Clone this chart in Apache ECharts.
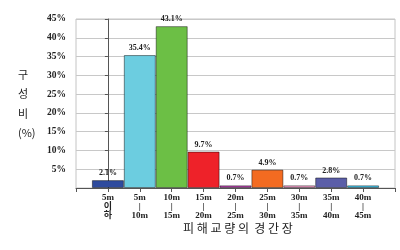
<!DOCTYPE html>
<html><head><meta charset="utf-8">
<script src="https://cdn.jsdelivr.net/npm/echarts@6/dist/echarts.min.js"></script>
<style>html,body{margin:0;padding:0;background:#fff}#c{width:400px;height:250px}</style>
</head><body><div id="c"></div>
<script>
const categories = ['5m\n이\n하','5m\n|\n10m','10m\n|\n15m','15m\n|\n20m','20m\n|\n25m','25m\n|\n30m','30m\n|\n35m','35m\n|\n40m','40m\n|\n45m'];
const values = [2.1, 35.4, 43.1, 9.7, 0.7, 4.9, 0.7, 2.8, 0.7];
const colors = ['#2f4b9e','#6ccde0','#6cbf45','#ee2229','#b43fa8','#f36b21','#f29ac6','#5b5ea8','#3dc3ea'];
const yTicks = [0,5,10,15,20,25,30,35,40,45];
const xTitle = '피 해 교 량 의  경 간 장';
const yTitle = '구\n성\n비\n(%)';

const chart = echarts.init(document.getElementById('c'), null, {renderer:'canvas'});
const serif = 'Liberation Serif, Noto Sans CJK KR';
chart.setOption({
  animation:false,
  grid:{left:76,right:5,top:19,bottom:62,show:true,borderColor:'#c4c4c4',borderWidth:1},
  xAxis:{type:'value',min:-1,max:categories.length,interval:1,
    axisLine:{lineStyle:{color:'#555',width:1}},
    axisTick:{show:true,length:4,lineStyle:{color:'#555'}},
    splitLine:{show:false},
    axisLabel:{margin:5,fontFamily:serif,fontWeight:'bold',fontSize:9,color:'#222',lineHeight:9,
      formatter:v=> (v>=0 && v<categories.length) ? categories[v] : ''}
  },
  yAxis:{type:'value',min:yTicks[0],max:yTicks[yTicks.length-1],interval:5,
    axisLine:{show:true,lineStyle:{color:'#555'}},
    axisTick:{show:true,length:3,lineStyle:{color:'#555'}},
    splitLine:{lineStyle:{color:'#c8c8c8'}},
    axisLabel:{margin:10,fontFamily:serif,fontWeight:'bold',fontSize:9.5,color:'#222',
      formatter:v=> v===0 ? '' : v+'%'}
  },
  series:[{type:'bar',barWidth:32,
    data:values.map((v,i)=>({value:[i,v],itemStyle:{color:colors[i]}})),
    itemStyle:{borderColor:'rgba(0,0,0,0.45)',borderWidth:1},
    label:{show:true,position:'top',distance:3,fontFamily:serif,fontWeight:'bold',fontSize:8,color:'#222',
      formatter:p=>p.value[1].toFixed(1)+'%'}
  }],
  graphic:[
    {type:'text',left:183,top:222,style:{text:xTitle,fontFamily:'Noto Sans CJK KR',fontSize:12,fill:'#222'}},
    {type:'text',left:18,top:65,style:{text:yTitle,fontFamily:'Noto Sans CJK KR',fontSize:11,lineHeight:19.5,fill:'#222',align:'center'}}
  ]
});
</script></body></html>
